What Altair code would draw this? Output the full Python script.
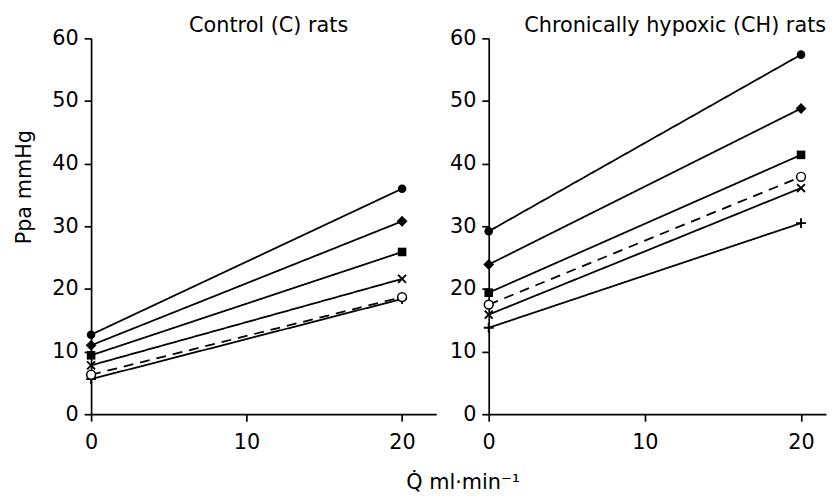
import altair as alt
import pandas as pd

# ---- data ----
flow = [0, 20]  # Q (ml/min)
series = ["closed circle", "closed diamond", "closed square", "cross", "plus", "open circle"]
shape_paths = ["circle", "diamond", "square",
               "M-1,-1L1,1M-1,1L1,-1",
               "M-1.25,0L1.25,0M0,-1.25L0,1.25",
               "circle"]
marker_kind = ["filled", "diamond", "filled", "stroke", "stroke", "open"]
line_style = ["solid", "solid", "solid", "solid", "solid", "dashed"]

control_q0 = [12.7, 11.0, 9.4, 7.8, 5.6, 6.3]
control_q20 = [36.0, 30.8, 25.9, 21.6, 18.4, 18.7]
hypoxic_q0 = [29.2, 23.9, 19.4, 15.9, 13.8, 17.5]
hypoxic_q20 = [57.4, 48.8, 41.4, 36.1, 30.5, 37.9]

y_ticks = [0, 10, 20, 30, 40, 50, 60]
x_ticks = [0, 10, 20]

FONT = "DejaVu Sans"


def make_df(v0, v20):
    rows = []
    for i, s in enumerate(series):
        for q, v in zip(flow, [v0[i], v20[i]]):
            rows.append({"series": s, "q": q, "ppa": v,
                         "kind": marker_kind[i], "style": line_style[i]})
    return pd.DataFrame(rows)


def panel(df, title, dx, xmax, width, ytitle):
    x = alt.X("q:Q", scale=alt.Scale(domain=[0, xmax], nice=False, zero=False),
              axis=alt.Axis(values=x_ticks, title=None, format="d", labelFlush=False))
    yaxis = dict(values=y_ticks, format="d")
    if ytitle:
        yaxis.update(title=ytitle, titleY=150, titlePadding=18)
    else:
        yaxis.update(title=None)
    y = alt.Y("ppa:Q", scale=alt.Scale(domain=[0, 60], nice=False), axis=alt.Axis(**yaxis))
    shp = alt.Shape("series:N", scale=alt.Scale(domain=series, range=shape_paths), legend=None)

    base = alt.Chart(df)
    lines = base.mark_line(color="black", strokeWidth=1.8).encode(
        x=x, y=y, detail="series:N",
        strokeDash=alt.StrokeDash("style:N",
                                  scale=alt.Scale(domain=["solid", "dashed"], range=[[1, 0], [10, 7]]),
                                  legend=None))
    filled = base.transform_filter("datum.kind == 'filled'").mark_point(
        filled=True, color="black", size=75, opacity=1).encode(x=x, y=y, shape=shp)
    diamond = base.transform_filter("datum.kind == 'diamond'").mark_point(
        filled=True, color="black", size=120, opacity=1).encode(x=x, y=y, shape=shp)
    stroked = base.transform_filter("datum.kind == 'stroke'").mark_point(
        filled=False, color="black", size=64, strokeWidth=1.9, opacity=1).encode(x=x, y=y, shape=shp)
    opened = base.transform_filter("datum.kind == 'open'").mark_point(
        filled=True, fill="white", stroke="black", size=80, strokeWidth=1.5, opacity=1).encode(x=x, y=y, shape=shp)
    return alt.layer(lines, filled, diamond, stroked, opened).properties(
        width=width, height=380,
        title=alt.TitleParams(title, fontSize=21, font=FONT, fontWeight="normal",
                              color="black", anchor="middle", dx=dx, offset=-9))


left = panel(make_df(control_q0, control_q20), "Control (C) rats", 5, 22.2, 349, "Ppa  mmHg")
right = panel(make_df(hypoxic_q0, hypoxic_q20), "Chronically hypoxic (CH) rats", 18, 21.6, 341, None)

chart = alt.hconcat(left, right, spacing=13).properties(
    padding={"left": 5, "top": 5, "right": 0, "bottom": 0},
    title=alt.TitleParams("Q\u0307  ml\u00b7min\u207b\u00b9", orient="bottom", anchor="middle",
                          dx=44, offset=20, fontSize=21, font=FONT, fontWeight="normal", color="black"),
).configure_view(stroke=None).configure_axis(
    domainColor="black", domainWidth=1.7, tickColor="black", tickWidth=1.7, tickSize=7,
    labelFont=FONT, labelFontSize=21, labelColor="black", labelPadding=6,
    titleFont=FONT, titleFontSize=21, titleFontWeight="normal", titleColor="black",
    grid=False,
).configure_axisX(labelPadding=11)

chart.save("out.html", embed_options={"renderer": "svg", "actions": False})
